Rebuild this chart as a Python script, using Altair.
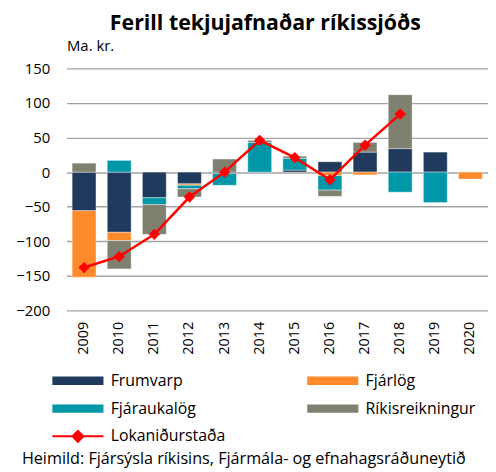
import altair as alt
import pandas as pd

years = [str(y) for y in range(2009, 2021)]
series = ["Frumvarp", "Fjárlög", "Fjáraukalög", "Ríkisreikningur"]
frumvarp = [-56, -87, -37, -17, -2, 0, 3, 15, 29, 34, 29, 0]
fjarlog = [-96, -12, 0, -2, 0, 0, 0, -5, -4, 0, 0, -10]
fjaraukalog = [0, 17, -10, -5, -17, 43, 17, -21, 0, -29, -44, 0]
rikisreikningur = [13, -41, -43, -12, 19, 3, 3, -9, 14, 78, 0, 0]
line_name = "Lokaniðurstaða"
lokanidurstada = [-138, -122, -90, -36, 0, 46, 21, -11, 39, 84, None, None]
colors = ["#1f3a5c", "#ff8a2b", "#0097a9", "#808070"]
line_color = "#ff0000"
y_ticks = [-200, -150, -100, -50, 0, 50, 100, 150]
title_text = "Ferill tekjujafnaðar ríkissjóðs"
unit = "Ma. kr."
source = "Heimild: Fjársýsla ríkisins, Fjármála- og efnahagsráðuneytið"

FONT = "Open Sans"

rows = []
for idx, (name, vals) in enumerate(zip(series, [frumvarp, fjarlog, fjaraukalog, rikisreikningur])):
    for yr, v in zip(years, vals):
        if v != 0:
            rows.append({"year": yr, "series": name, "value": v, "idx": idx})
bar_df = pd.DataFrame(rows)

line_df = pd.DataFrame({"year": years, "value": lokanidurstada, "name": line_name}).dropna()
src_df = pd.DataFrame({"t": [source]})

rect_path = "M-5.15,-0.85H5.15V0.85H-5.15Z"
line_path = "M-5.15,0H5.15M0,-1.1L1.1,0L0,1.1L-1.1,0Z"

x_axis = alt.Axis(labelAngle=270, labelFontSize=14.5, labelFont=FONT, labelColor="#000",
                  labelPadding=11, ticks=False, domain=False, grid=False)
y_axis = alt.Axis(values=y_ticks, title=unit, titleAngle=0, titleAlign="left",
                  titleBaseline="alphabetic", titleX=0, titleY=-18,
                  titleFont=FONT, titleFontSize=15, titleFontWeight="normal",
                  titleColor="#000",
                  labelFont=FONT, labelFontSize=15, labelColor="#000", labelPadding=17,
                  ticks=False, domain=False, grid=True,
                  gridColor="#a3a3a3", gridWidth=1.4)


def xe():
    return alt.X("year:N", sort=years, title=None,
                 scale=alt.Scale(paddingInner=0.32, paddingOuter=0.16), axis=x_axis)


def ye(stack=None):
    if stack:
        return alt.Y("value:Q", stack=stack, scale=alt.Scale(domain=[-200, 150], nice=False),
                     axis=y_axis)
    return alt.Y("value:Q", scale=alt.Scale(domain=[-200, 150], nice=False), axis=y_axis)


bars = alt.Chart(bar_df).mark_bar(stroke="white", strokeWidth=0.4).encode(
    x=xe(),
    y=ye("zero"),
    color=alt.Color("series:N", sort=series,
                    scale=alt.Scale(domain=series, range=colors),
                    legend=alt.Legend(orient="none", legendX=3.5, legendY=307, columns=2,
                                      direction="horizontal",
                                      title=None, symbolType=rect_path, symbolSize=100,
                                      symbolStrokeWidth=0, labelOffset=25,
                                      labelFont=FONT, labelFontSize=16, labelColor="#000",
                                      columnPadding=111, rowPadding=12)),
    order=alt.Order("idx:Q"),
)

line = alt.Chart(line_df).mark_line(color=line_color, strokeWidth=2.5).encode(
    x=xe(),
    y=ye(),
)

pts = alt.Chart(line_df).mark_point(filled=True, shape="diamond", size=130, opacity=1).encode(
    x=xe(),
    y=ye(),
    color=alt.Color("name:N", scale=alt.Scale(domain=[line_name], range=[line_color]),
                    legend=alt.Legend(orient="none", legendX=3.5, legendY=363, title=None,
                                      symbolType=line_path, symbolSize=100,
                                      symbolStrokeColor=line_color, symbolStrokeWidth=2,
                                      symbolFillColor=line_color, labelOffset=25,
                                      labelFont=FONT, labelFontSize=16, labelColor="#000")),
)

src = alt.Chart(src_df).mark_text(align="left", baseline="alphabetic", font=FONT, fontSize=16.3,
                                  color="#000").encode(
    x=alt.value(-45), y=alt.value(399), text="t:N")

chart = alt.layer(bars, line, pts, src).resolve_scale(color="independent").properties(
    width=425, height=244,
    autosize=alt.AutoSizeParams(type="none"),
    padding={"left": 59, "top": 59, "right": 0, "bottom": 161},
    title=alt.Title(title_text, font=FONT, fontSize=21.5, fontWeight="bold", color="#000",
                    anchor="middle", frame="group", dx=-12, offset=4),
).configure_view(stroke=None)

chart.save("out.html", embed_options={"renderer": "svg", "actions": False})
